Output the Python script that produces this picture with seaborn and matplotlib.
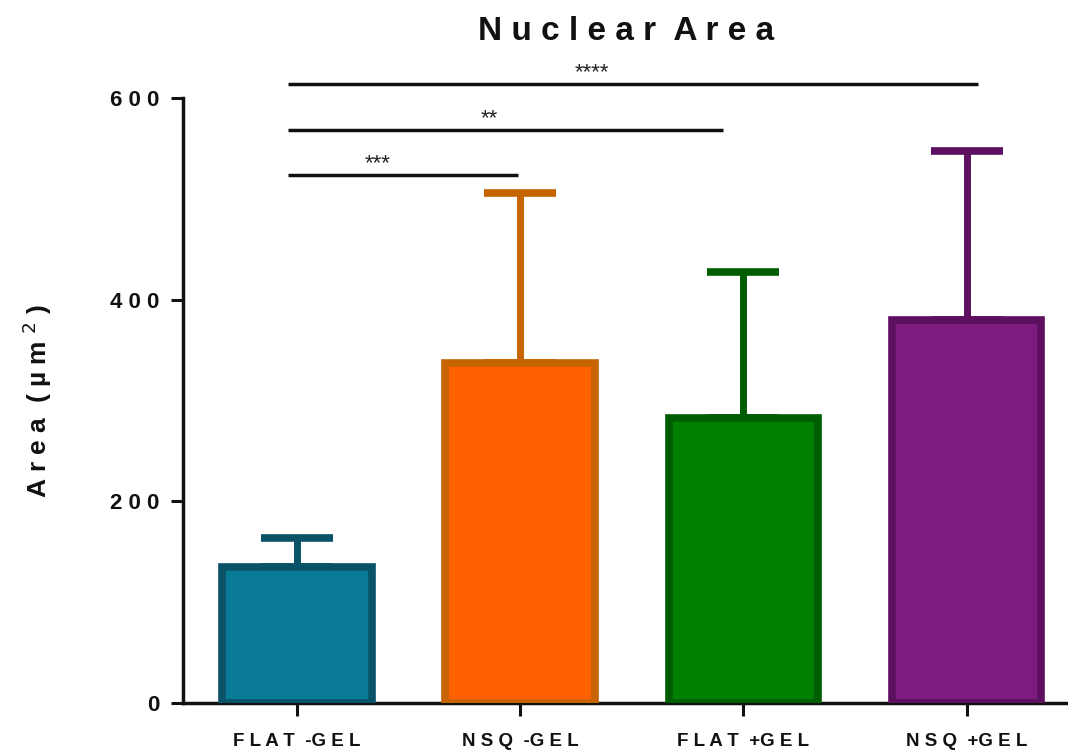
import numpy as np
import pandas as pd
import matplotlib
matplotlib.use("Agg")
import matplotlib.pyplot as plt
import seaborn as sns

sns.set_theme(style="ticks")
plt.rcParams['font.family'] = ['Liberation Sans', 'DejaVu Sans']
plt.rcParams['text.color'] = "#111111"
plt.rcParams['axes.labelcolor'] = "#111111"
plt.rcParams['xtick.color'] = "#111111"
plt.rcParams['ytick.color'] = "#111111"

# datos
grupos = ["FLAT -GEL", "NSQ -GEL", "FLAT +GEL", "NSQ +GEL"]
medias = [135, 337, 283, 380]
desv = [29, 169, 145, 168]
relleno = ["#087a96", "#ff6000", "#008000", "#7c1c7e"]
borde = ["#0a5268", "#c66400", "#005c00", "#5d1060"]

# comparaciones (grupo i, grupo j, altura, etiqueta)
comp_i = [0, 0, 0]
comp_j = [1, 2, 3]
comp_y = [524, 568, 614]
comp_txt = ["***", "**", "****"]

df = pd.DataFrame({"Grupo": grupos, "Area": medias})

fig = plt.figure(figsize=(10.68, 7.55), dpi=100)
ax = fig.add_axes([0.1713, 0.069, 0.83, 0.801])

sns.barplot(data=df, x="Grupo", y="Area", hue="Grupo", palette=relleno,
            saturation=1, width=0.67, errorbar=None, legend=False, ax=ax, zorder=3)
for p, c in zip(ax.patches, borde):
    p.set_edgecolor(c)
    p.set_linewidth(5.5)

x = np.arange(len(grupos))
for i in range(len(grupos)):
    ax.errorbar(x[i], medias[i], yerr=[[0], [desv[i]]], fmt="none",
                ecolor=borde[i], elinewidth=5, capsize=26, capthick=5.5, zorder=2)

# ajustes de los extremos de las líneas y de la posición de los asteriscos
fin_off = [-0.01, -0.09, 0.05]
txt_pos = [0.36, 0.86, 1.32]
for a, b, h, t, off, xt in zip(comp_i, comp_j, comp_y, comp_txt, fin_off, txt_pos):
    ax.plot([x[a] - 0.04, x[b] + off], [h, h], color="#111111", lw=2.5,
            clip_on=False, solid_capstyle="butt")
    ax.text(xt, h + 1, t, ha="center", va="bottom", fontsize=16,
            color="#222222", clip_on=False)

ax.set_ylim(0, 600)
ax.set_xlim(-0.51, 3.46)
ax.set_yticks([0, 200, 400, 600])
ax.set_xlabel("")
ax.set_ylabel("A r e a  ( µ m $^{2}$ )", fontsize=19, fontweight="bold", labelpad=40)
ax.set_title("N u c l e a r  A r e a", fontsize=24, fontweight="bold", pad=42)
ax.set_yticklabels(["0", "2 0 0", "4 0 0", "6 0 0"], fontsize=16, fontweight="bold")
ax.set_xticks(x)
ax.set_xticklabels(["F L A T  -G E L", "N S Q  -G E L", "F L A T  +G E L", "N S Q  +G E L"],
                   fontsize=13.5, fontweight="bold")
ax.tick_params(axis="both", width=2.2, length=9, pad=8)
ax.tick_params(axis="x", pad=13)
for s in ["left", "bottom"]:
    ax.spines[s].set_linewidth(2.5)
    ax.spines[s].set_color("#111111")
sns.despine(ax=ax)

fig.savefig("out.png", dpi=100)
